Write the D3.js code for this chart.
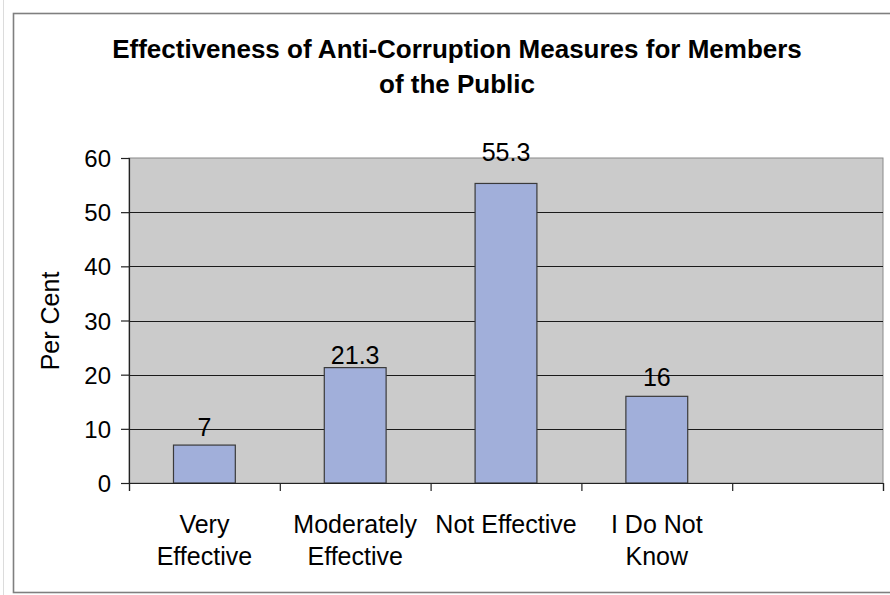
<!DOCTYPE html>
<html>
<head>
<meta charset="utf-8">
<script src="https://cdn.jsdelivr.net/npm/d3@7/dist/d3.min.js"></script>
<style>
  html, body { margin: 0; padding: 0; background: #ffffff; }
  svg { display: block; }
  text { font-family: "Liberation Sans", Arial, sans-serif; fill: #000; }
</style>
</head>
<body>
<script>
// Survey responses: how effective anti-corruption measures are for members of the public
const categories = ["Very Effective", "Moderately Effective", "Not Effective", "I Do Not Know", ""];
const categoryLines = [["Very", "Effective"], ["Moderately", "Effective"], ["Not Effective"], ["I Do Not", "Know"], []];
const values = [7, 21.3, 55.3, 16];
const valueLabels = ["7", "21.3", "55.3", "16"];
const yTicks = [0, 10, 20, 30, 40, 50, 60];
const titleLines = ["Effectiveness of Anti-Corruption Measures for Members", "of the Public"];
const yTitle = "Per Cent";
// how far each value label sits above its bar
const labelLift = [9, 4, 22, 10];

const W = 890, H = 595;
const plot = { left: 129, right: 883, top: 158, bottom: 483 };

const svg = d3.select("body").append("svg")
  .attr("width", W).attr("height", H);

// outer frame
svg.append("line")
  .attr("x1", 3.5).attr("x2", 3.5).attr("y1", 0).attr("y2", H)
  .attr("stroke", "#dcdcdc").attr("stroke-width", 1);
svg.append("rect")
  .attr("x", 13.5).attr("y", 13.5)
  .attr("width", W + 10).attr("height", 579)
  .attr("fill", "#fff").attr("stroke", "#7f7f7f").attr("stroke-width", 1.6);

// title
const title = svg.append("g");
titleLines.forEach((t, i) => {
  title.append("text")
    .attr("x", 457).attr("y", 58 + i * 35)
    .attr("text-anchor", "middle")
    .attr("font-size", 26).attr("font-weight", "bold")
    .text(t);
});

// scales
const x = d3.scaleBand()
  .domain(categories)
  .range([plot.left, plot.right])
  .paddingInner(0.59).paddingOuter(0.295);
const slot = d3.scaleLinear().domain([0, categories.length]).range([plot.left, plot.right]);
const y = d3.scaleLinear().domain([0, 60]).range([plot.bottom, plot.top]);

// plot background
svg.append("rect")
  .attr("x", plot.left).attr("y", plot.top)
  .attr("width", plot.right - plot.left).attr("height", plot.bottom - plot.top)
  .attr("fill", "#cbcbcb").attr("stroke", "#8a8a8a").attr("stroke-width", 1);

// horizontal gridlines
svg.append("g").selectAll("line")
  .data(yTicks.filter(d => d > 0 && d < 60))
  .join("line")
  .attr("x1", plot.left).attr("x2", plot.right)
  .attr("y1", d => Math.round(y(d)) + 0.5).attr("y2", d => Math.round(y(d)) + 0.5)
  .attr("stroke", "#1a1a1a").attr("stroke-width", 1);

// bars
svg.append("g").selectAll("rect")
  .data(values)
  .join("rect")
  .attr("x", (d, i) => x(categories[i]))
  .attr("y", d => y(d))
  .attr("width", x.bandwidth())
  .attr("height", d => y(0) - y(d))
  .attr("fill", "#a1afda")
  .attr("stroke", "#3a3a3a").attr("stroke-width", 1.2);

// value labels
svg.append("g").selectAll("text")
  .data(values)
  .join("text")
  .attr("x", (d, i) => x(categories[i]) + x.bandwidth() / 2)
  .attr("y", (d, i) => y(d) - labelLift[i])
  .attr("text-anchor", "middle")
  .attr("font-size", 25)
  .text((d, i) => valueLabels[i]);

// y axis
const yAxis = svg.append("g")
  .attr("transform", `translate(${plot.left},0)`)
  .call(d3.axisLeft(y).tickValues(yTicks).tickSize(8).tickPadding(10).tickFormat(d3.format("d")));
yAxis.select(".domain").attr("stroke", "#222").attr("stroke-width", 1.2);
yAxis.selectAll(".tick line").attr("stroke", "#222").attr("stroke-width", 1.2);
yAxis.selectAll(".tick text")
  .attr("font-size", 24).attr("font-family", null)
  .attr("dy", "0.36em").attr("fill", "#000");

// x axis: tick marks at slot boundaries
const xAxis = svg.append("g")
  .attr("transform", `translate(0,${plot.bottom})`)
  .call(d3.axisBottom(slot).tickValues(d3.range(categories.length + 1)).tickSize(8).tickFormat(""));
xAxis.select(".domain").attr("stroke", "#222").attr("stroke-width", 1.2);
xAxis.selectAll(".tick line").attr("stroke", "#222").attr("stroke-width", 1.2);

// category labels
const catG = svg.append("g");
categories.forEach((c, i) => {
  const cx = x(c) + x.bandwidth() / 2;
  categoryLines[i].forEach((line, j) => {
    catG.append("text")
      .attr("x", cx).attr("y", 533 + j * 32)
      .attr("text-anchor", "middle")
      .attr("font-size", 25)
      .text(line);
  });
});

// y axis title
svg.append("text")
  .attr("transform", "translate(59,321) rotate(-90)")
  .attr("text-anchor", "middle")
  .attr("font-size", 25)
  .text(yTitle);
</script>
</body>
</html>
